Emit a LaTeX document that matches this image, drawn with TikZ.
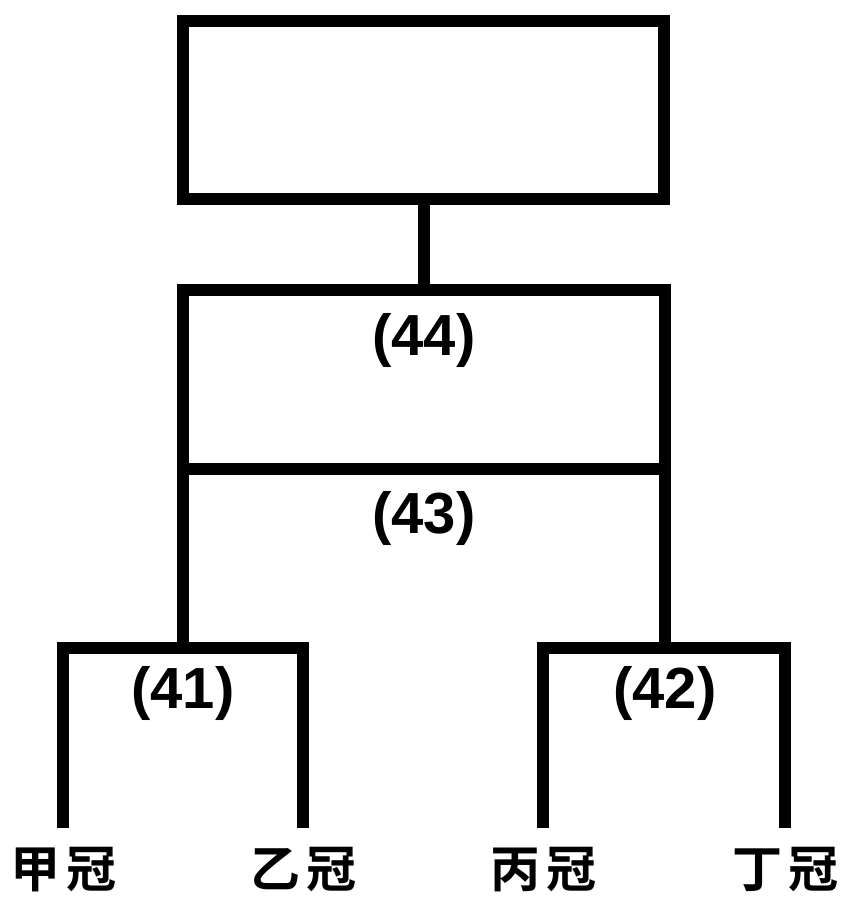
\documentclass[tikz,border=0pt]{standalone}
\usepackage{fontspec}
\setmainfont{Liberation Sans}
\newfontfamily\cjk{Noto Sans CJK TC}[BoldFont={Noto Sans CJK TC Bold}]
\begin{document}
\begin{tikzpicture}[x=1pt,y=-1pt,
  wire/.style={line width=12pt,line join=miter},
  num/.style={font=\fontsize{58}{60}\selectfont\bfseries,inner sep=0pt},
  leaf/.style={font=\cjk\bfseries\fontsize{50}{52}\selectfont,inner sep=0pt}]
\useasboundingbox[fill=white] (0,0) rectangle (848,906);
% top box
\draw[wire] (183,21) rectangle (664,199);
\coordinate (topB) at (424,199);
% middle box
\coordinate (m44T) at (424,290);
\coordinate (mTL) at (183,290);
\coordinate (mTR) at (665,290);
\coordinate (mML) at (183,469);
\coordinate (mMR) at (665,469);
\coordinate (mBL) at (183,648);
\coordinate (mBR) at (665,648);
\draw[wire] (topB) -- (m44T);
\draw[wire] (mML) -- (mTL) -- (mTR) -- (mMR);
\draw[wire] (mML) -- (mMR);
\draw[wire] (mML) -- (mBL);
\draw[wire] (mMR) -- (mBR);
% brackets
\coordinate (a1) at (63,828);
\coordinate (a2) at (63,648);
\coordinate (a3) at (303,648);
\coordinate (a4) at (303,828);
\coordinate (b1) at (543,828);
\coordinate (b2) at (543,648);
\coordinate (b3) at (785,648);
\coordinate (b4) at (785,828);
\draw[wire] (a1) -- (a2) -- (a3) -- (a4);
\draw[wire] (b1) -- (b2) -- (b3) -- (b4);
% labels
\node[num] (n44) at (424,340) {(44)};
\node[num] (n43) at (424,518) {(43)};
\node[num] (n41) at (183,693) {(41)};
\node[num] (n42) at (665,693) {(42)};
\node[leaf] (l1) at (63,870) {甲\hspace{6pt}冠};
\node[leaf] (l2) at (303,870) {乙\hspace{6pt}冠};
\node[leaf] (l3) at (543,870) {丙\hspace{6pt}冠};
\node[leaf] (l4) at (785,870) {丁\hspace{6pt}冠};
\end{tikzpicture}
\end{document}
